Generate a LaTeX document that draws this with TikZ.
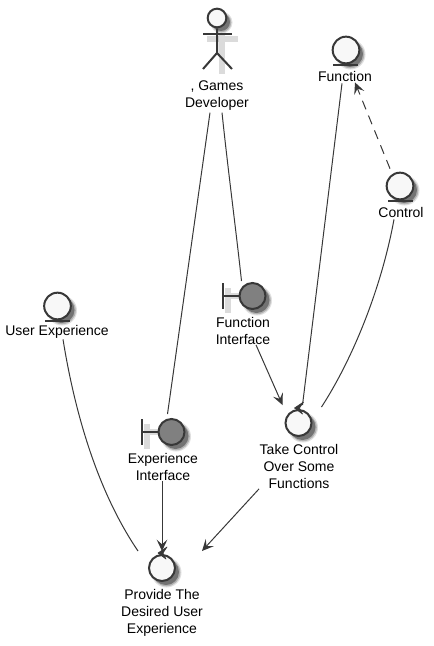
\documentclass[tikz,border=0pt]{standalone}
\usepackage{fontspec}
\setmainfont{Liberation Sans}
\usetikzlibrary{arrows.meta,calc}
\definecolor{tratto}{HTML}{383838}
\definecolor{fondo}{HTML}{F8F8F8}
\newcommand{\ombra}[3]{\fill[black!12] (#1+4.5,#2+4.5) circle (#3+2);
   \fill[black!30] (#1+4.5,#2+4.5) circle (#3+0.8); \fill[black!55] (#1+4,#2+4) circle (#3);}
\tikzset{
  cerchio/.style={circle,draw=tratto,line width=1.5pt,fill=fondo,minimum size=19.5pt,inner sep=0pt},
  interfaccia/.style={cerchio,fill=black!50},
  etichetta/.style={font=\fontsize{10.5pt}{12.75pt}\selectfont,align=center,inner sep=0pt,text=black},
  segno/.style={line width=1.5pt,draw=tratto},
  alone/.style={line width=4pt,draw=black!14},
  linea/.style={draw=tratto,line width=.75pt},
  freccia/.style={linea,-{Stealth[length=8.5pt,width=8pt,inset=3.5pt]}},
  punta/.style={fill=tratto,draw=tratto,line width=.5pt,line join=round}
}
\begin{document}
\begin{tikzpicture}[x=0.75pt,y=-0.75pt]
\useasboundingbox (0,0) rectangle (434,646);
% attore
   \draw[alone] (207,39) -- (238,39); \draw[alone] (222,27) -- (222,74);
   \ombra{217}{18}{9}
   \node[cerchio,minimum size=14pt] (dev) at (217,18) {};
   \draw[segno] (dev.south) -- (217,53) -- (203,69);
   \draw[segno] (217,53) -- (232,69); \draw[segno] (203,34) -- (232,34);
   \node[etichetta] (lblDev) at (217,95.5) {, Games\\Developer};
% entita
   \ombra{346}{50}{13}
   \node[cerchio,minimum size=20pt] (fun) at (346,50) {};
   \draw[segno] (333,64.5) -- (358,64.5);
   \node[etichetta] (lblFun) at (345,76) {Function};
   \ombra{400}{186}{13}
   \node[cerchio,minimum size=20pt] (ctl) at (400,186) {};
   \draw[segno] (388,200.5) -- (413,200.5);
   \node[etichetta] (lblCtl) at (401,212) {Control};
   \ombra{57.5}{306}{13}
   \node[cerchio,minimum size=20pt] (usr) at (57.5,306) {};
   \draw[segno] (45,320.5) -- (70,320.5);
   \node[etichetta] (lblUsr) at (57,331.5) {User Experience};
% interfacce
   \draw[alone] (227,296) -- (241,296); \draw[alone] (228,288) -- (228,313);
   \ombra{252.5}{296}{13}
   \node[interfaccia] (fi) at (252.5,296) {};
   \draw[segno] (223,283) -- (223,309); \draw[segno] (223,296) -- (fi.west);
   \node[etichetta] (lblFi) at (243,331) {Function\\Interface};
   \draw[alone] (147,432) -- (160,432); \draw[alone] (147,424) -- (147,449);
   \ombra{171.5}{432}{13}
   \node[interfaccia] (ei) at (171.5,432) {};
   \draw[segno] (142,419) -- (142,445); \draw[segno] (142,432) -- (ei.west);
   \node[etichetta] (lblEi) at (163,467) {Experience\\Interface};
% controlli
   \ombra{298.5}{423}{13}
   \node[cerchio] (tc) at (298.5,423) {};
   \filldraw[punta] ($(tc.north)+(-4,-1)$) -- ($(tc.north)+(5,-7)$) -- ($(tc.north)+(1,-1)$)
   -- ($(tc.north)+(4,5)$) -- cycle;
   \node[etichetta] (lblTc) at (299,466.5) {Take Control\\Over Some\\Functions};
   \ombra{162}{568}{13}
   \node[cerchio] (pd) at (162,568) {};
   \filldraw[punta] ($(pd.north)+(-4,-1)$) -- ($(pd.north)+(5,-7)$) -- ($(pd.north)+(1,-1)$)
   -- ($(pd.north)+(4,5)$) -- cycle;
   \node[etichetta] (lblPd) at (162,613) {Provide The\\Desired User\\Experience};
% collegamenti
   \draw[linea] ($(lblDev.south)+(-7,2)$) -- ($(ei.north)+(-4,-4)$);
   \draw[linea] ($(lblDev.south)+(5,2)$) .. controls (228,170) and (236,230) .. ($(fi.north)+(-11,-1)$);
   \draw[linea] ($(lblUsr.south)+(6,1)$) .. controls (76,420) and (100,495) .. ($(pd.north)+(-24,-3)$);
   \draw[linea] ($(lblFun.south)+(-3,2)$) -- ($(tc.north)+(4,-4)$);
   \draw[linea] ($(lblCtl.south)+(-7,2)$) .. controls (381,290) and (352,360) .. ($(tc.north)+(23,-2)$);
   \draw[freccia,dashed,dash pattern=on 7pt off 5pt] ($(ctl.north)+(-10,-3)$) -- ($(lblFun.south)+(10,1)$);
   \draw[freccia] ($(lblFi.south)+(13,0)$) -- ($(tc.north)+(-16,-4)$);
   \draw[freccia] ($(lblEi.south)+(-1,0)$) -- ($(pd.north)+(0,-3)$);
   \draw[freccia] ($(lblTc.south)+(-40,0)$) -- ($(pd.north)+(40,-3)$);
 \end{tikzpicture}
\end{document}
